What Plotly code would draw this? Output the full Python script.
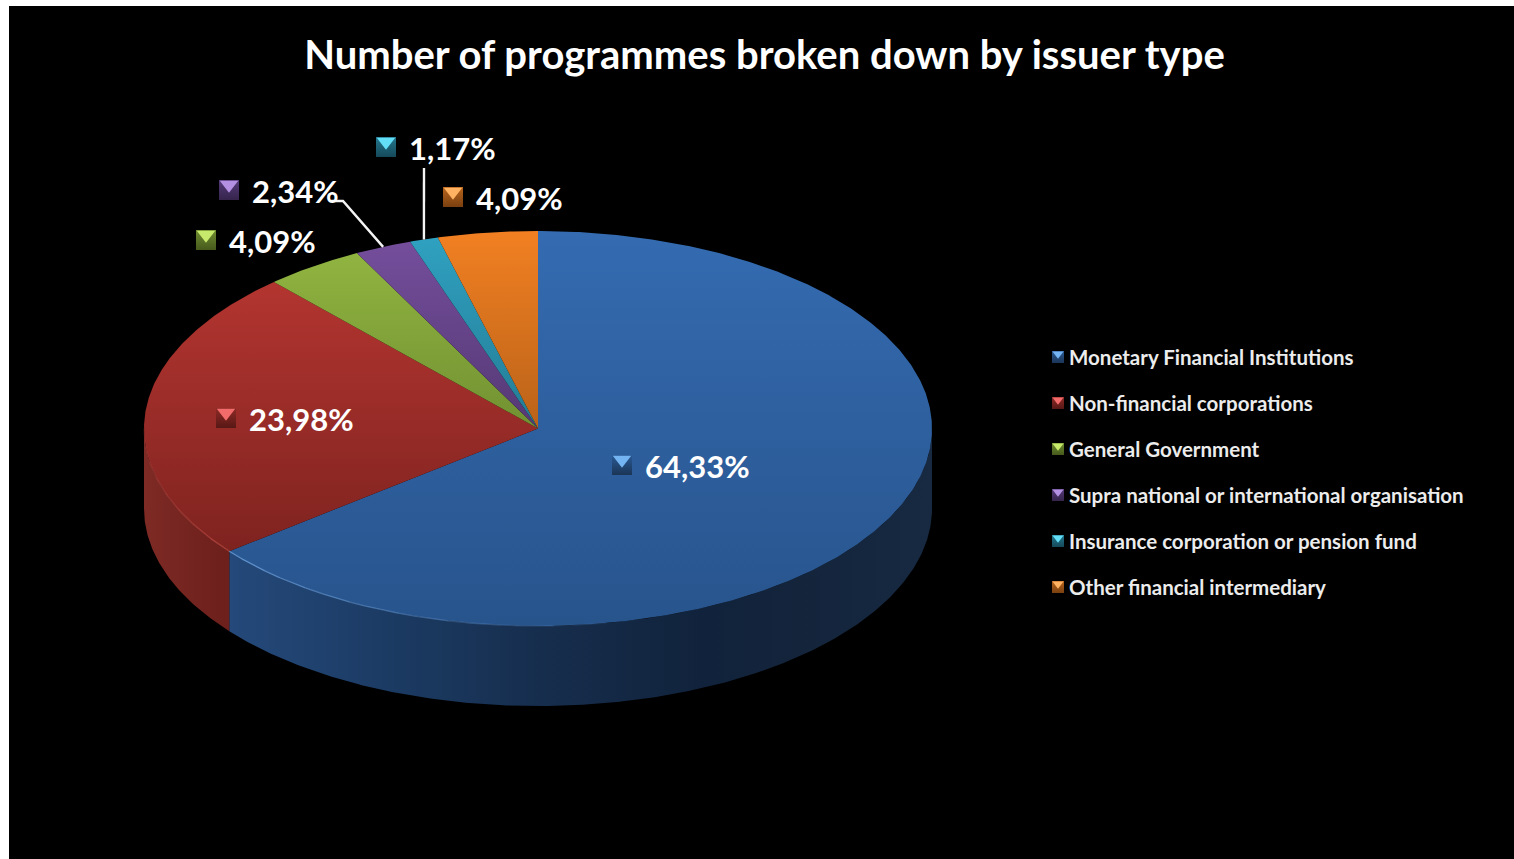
import math
import plotly.graph_objects as go

# Chart content
TITLE = "Number of programmes broken down by issuer type"
categories = [
    "Monetary Financial Institutions",
    "Non-financial corporations",
    "General Government",
    "Supra national or international organisation",
    "Insurance corporation or pension fund",
    "Other financial intermediary",
]
shares = [64.33, 23.98, 4.09, 2.34, 1.17, 4.09]

# Slice shading: colour at the far and near edge of the disc
top_colors = ["#346bb1", "#bd3833", "#94b842", "#764f9e", "#30a2c2", "#f28022"]
bottom_colors = ["#28548c", "#701e1b", "#4f6a22", "#33224a", "#175465", "#814510"]
bevel_colors = ["#74b4f2", "#f26c6c", "#c8ea6c", "#b490e2", "#62def6", "#ffb262"]
marker_colors = ["#2a5a96", "#8f2a26", "#6f8c30", "#553a78", "#23778f", "#b8641c"]
marker_dark = ["#1b3556", "#571815", "#465a1c", "#35244c", "#15495a", "#7a4010"]

# Side wall shading, left to right across the disc
blue_wall = [(229, "#24497a"), (400, "#1b3a62"), (550, "#162d4c"), (700, "#11233c"), (800, "#13243b"), (932, "#172a42")]
red_wall = [(144, "#7e2a25"), (229, "#6c1f1b")]
wall_stops = {0: blue_wall, 1: red_wall}
rim_colors = {0: "#5d8fca", 1: "#c8504a"}

# Geometry of the tilted disc, in page pixels
CX, CY, RX, RY, DEPTH = 538, 428.5, 394, 197.5, 80
PAGE_W, PAGE_H, LEFT, TOP = 1514, 859, 9, 6

# Value label anchors: bevel marker centre
label_pos = [(622, 465), (226, 418), (206, 240), (229, 190), (386, 147), (453, 197)]
LABEL_GAP = 23
LABEL_DROP = 5
# Leader line starts for the two thin slices: label end, then elbow
leaders = {3: [(330, 201), (343, 201)], 4: [(424, 168)]}

legend_x, legend_text_x = 1058, 1069
legend_y = [357, 403, 449, 495, 541, 587]
LEGEND_DROP = 3

FONT = "Lato, Carlito, Calibri, sans-serif"


def ellipse(theta_deg, dy=0.0):
    t = math.radians(theta_deg)
    return CX + RX * math.sin(t), CY - RY * math.cos(t) + dy


def arc(a, b, dy=0.0, step=0.5):
    n = max(2, int(abs(b - a) / step))
    return [ellipse(a + (b - a) * i / n, dy) for i in range(n + 1)]


def scale_between(stops):
    lo, hi = stops[0][0], stops[-1][0]
    return [[(x - lo) / (hi - lo), c] for x, c in stops]


fig = go.Figure()

# Running boundaries of the slices, clockwise from twelve o'clock
total = sum(shares)
edges = [0.0]
for s in shares:
    edges.append(edges[-1] + s / total * 360)

# Side walls: only the part of the rim that faces the viewer
for i in range(len(shares)):
    a, b = max(edges[i], 90), min(edges[i + 1], 270)
    if a >= b:
        continue
    upper = arc(a, b)
    lower = arc(b, a, DEPTH)
    pts = upper + lower + upper[:1]
    stops = wall_stops[i]
    fig.add_trace(go.Scatter(
        x=[p[0] for p in pts], y=[p[1] for p in pts],
        mode="lines", line=dict(width=0), fill="toself",
        fillgradient=dict(type="horizontal", start=stops[0][0], stop=stops[-1][0],
                          colorscale=scale_between(stops)),
        hoverinfo="skip"))

# Top faces of the slices
for i, name in enumerate(categories):
    pts = [(CX, CY)] + arc(edges[i], edges[i + 1]) + [(CX, CY)]
    fig.add_trace(go.Scatter(
        x=[p[0] for p in pts], y=[p[1] for p in pts],
        mode="lines", line=dict(width=0), fill="toself", name=name,
        fillgradient=dict(type="vertical", start=CY - RY, stop=CY + RY,
                          colorscale=[[0, top_colors[i]], [1, bottom_colors[i]]]),
        hovertemplate=f"{name}: {shares[i]}%<extra></extra>"))

# Soft highlight along the front rim, fading out towards the right
for i in (0, 1):
    a, b = max(edges[i], 170), min(edges[i + 1], 270)
    n = 8
    for k in range(n):
        s, e = a + (b - a) * k / n, a + (b - a) * (k + 1) / n
        pts = arc(s, e)
        opacity = (k + 1) / n if i == 0 else 0.55 * (1 - k / n) + 0.1
        fig.add_trace(go.Scatter(
            x=[p[0] for p in pts], y=[p[1] for p in pts], mode="lines",
            line=dict(color=rim_colors[i], width=1.3), opacity=opacity,
            hoverinfo="skip"))

# Leader lines for the thin slices end on the middle of their arcs
for i, start in leaders.items():
    end = ellipse((edges[i] + edges[i + 1]) / 2)
    pts = start + [end]
    fig.add_trace(go.Scatter(
        x=[p[0] for p in pts], y=[p[1] for p in pts], mode="lines",
        line=dict(color="#f4f4f4", width=2.4), hoverinfo="skip"))


def bevel_marker(x, y, size, i):
    fig.add_trace(go.Scatter(
        x=[x], y=[y], mode="markers", hoverinfo="skip",
        marker=dict(symbol="square", size=size, color=marker_colors[i], line=dict(width=0),
                    gradient=dict(type="vertical", color=marker_dark[i]))))
    fig.add_trace(go.Scatter(
        x=[x], y=[y - size * 0.26], mode="markers", hoverinfo="skip",
        marker=dict(symbol="triangle-down", size=size * 0.8, color=bevel_colors[i],
                    line=dict(width=0))))


# Value labels with their small keys
for i, (x, y) in enumerate(label_pos):
    bevel_marker(x, y, 20, i)
    text = f"{shares[i]:.2f}".replace(".", ",") + "%"
    fig.add_trace(go.Scatter(
        x=[x + LABEL_GAP], y=[y + LABEL_DROP], mode="text", text=[text],
        textposition="middle right", hoverinfo="skip", cliponaxis=False,
        textfont=dict(family=FONT, size=31, color="#ffffff", weight=700)))

# Key on the right
for i, name in enumerate(categories):
    bevel_marker(legend_x, legend_y[i], 12, i)
    fig.add_trace(go.Scatter(
        x=[legend_text_x], y=[legend_y[i] + LEGEND_DROP], mode="text", text=[name],
        textposition="middle right", hoverinfo="skip", cliponaxis=False,
        textfont=dict(family=FONT, size=20.5, color="#ececec", weight=700)))

fig.update_layout(
    width=PAGE_W, height=PAGE_H,
    margin=dict(l=LEFT, t=TOP, r=0, b=0, pad=0),
    paper_bgcolor="#ffffff", plot_bgcolor="#000000",
    showlegend=False,
    title=dict(text=TITLE, x=764.5 / PAGE_W, xanchor="center", xref="container",
               y=1 - 55 / PAGE_H, yanchor="middle", yref="container",
               font=dict(family=FONT, size=40, color="#ffffff", weight=700)),
    xaxis=dict(range=[LEFT, PAGE_W], visible=False, fixedrange=True),
    yaxis=dict(range=[PAGE_H, TOP], visible=False, fixedrange=True),
)

fig.write_html("out.html", config={"displayModeBar": False})
